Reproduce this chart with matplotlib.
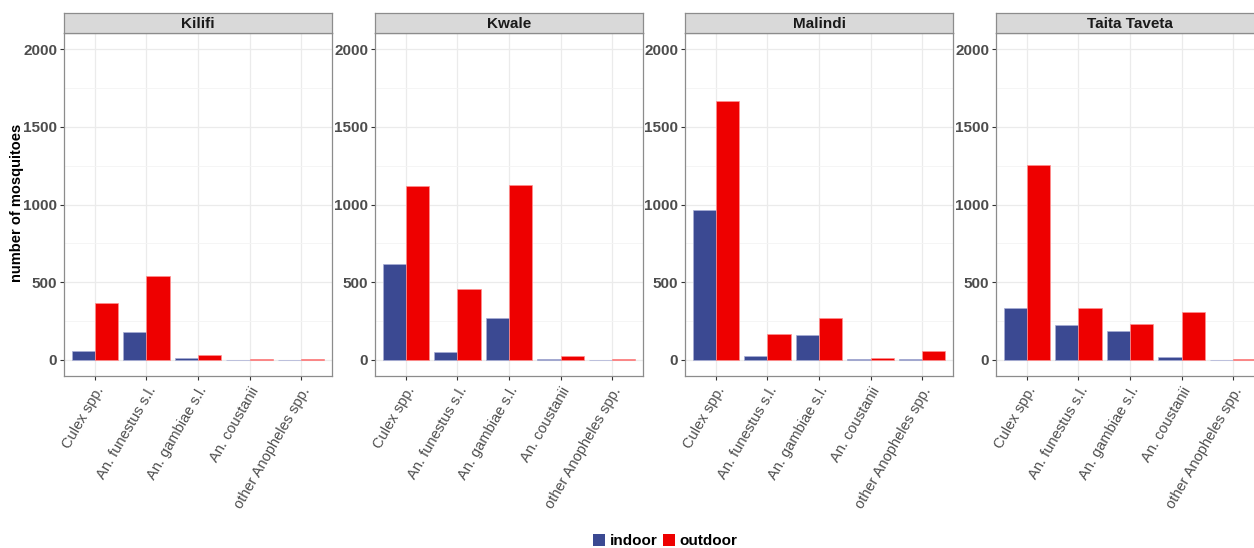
import matplotlib
matplotlib.use("Agg")
import matplotlib.pyplot as plt
from matplotlib.patches import Patch
import numpy as np

plt.rcParams['font.family'] = ['Liberation Sans', 'DejaVu Sans']

counties = ["Kilifi", "Kwale", "Malindi", "Taita Taveta"]
species = ["Culex spp.", "An. funestus s.l.", "An. gambiae s.l.", "An. coustanii", "other Anopheles spp."]

indoor = {
    "Kilifi":       [58, 180, 13, 0, 1],
    "Kwale":        [617, 49, 270, 4, 0],
    "Malindi":      [964, 21, 161, 2, 2],
    "Taita Taveta": [334, 225, 188, 19, 1],
}
outdoor = {
    "Kilifi":       [366, 537, 32, 2, 3],
    "Kwale":        [1116, 454, 1126, 26, 2],
    "Malindi":      [1666, 163, 270, 13, 58],
    "Taita Taveta": [1255, 332, 231, 308, 4],
}

C_IN = "#3B4992"
C_OUT = "#EE0000"

W, H = 1254, 548
fig = plt.figure(figsize=(W / 100, H / 100), dpi=100)

lefts = [64, 375, 685, 996]
pw = 268
ptop, pbot = 33, 376
stop = 13

border = "#8C8C8C"
x = np.arange(1, len(species) + 1)
bw = 0.45

for i, c in enumerate(counties):
    L = lefts[i]
    ax = fig.add_axes([L / W, 1 - pbot / H, pw / W, (pbot - ptop) / H])
    ax.bar(x - bw / 2, indoor[c], width=bw, color=C_IN, edgecolor='#A8AED6',
           linewidth=0.5, zorder=3)
    ax.bar(x + bw / 2, outdoor[c], width=bw, color=C_OUT, edgecolor='#FF9090',
           linewidth=0.5, zorder=3)
    ax.set_xlim(0.4, 5.6)
    ax.set_ylim(-105, 2105)
    ax.set_yticks([0, 500, 1000, 1500, 2000])
    ax.set_yticks([250, 750, 1250, 1750], minor=True)
    ax.set_xticks(x)
    ax.set_xticklabels(species, rotation=60, ha='right', va='top',
                       rotation_mode='anchor', fontsize=10.5, color='#4D4D4D')
    ax.tick_params(axis='y', which='major', labelsize=11, labelcolor='#4D4D4D',
                   length=3, color='#333333', width=0.8, pad=2)
    ax.tick_params(axis='y', which='minor', length=0)
    ax.tick_params(axis='x', length=3, color='#333333', width=0.8, pad=3)
    for lab in ax.get_yticklabels():
        lab.set_fontweight('bold')
    ax.grid(True, which='major', color='#EBEBEB', linewidth=0.9, zorder=0)
    ax.grid(True, which='minor', axis='y', color='#F4F4F4', linewidth=0.6, zorder=0)
    ax.set_axisbelow(True)
    for s in ax.spines.values():
        s.set_color(border)
        s.set_linewidth(0.9)
    # strip
    sax = fig.add_axes([L / W, 1 - ptop / H, pw / W, (ptop - stop) / H])
    sax.set_facecolor('#D9D9D9')
    sax.set_xticks([])
    sax.set_yticks([])
    for s in sax.spines.values():
        s.set_color(border)
        s.set_linewidth(0.9)
    sax.text(0.5, 0.45, c, transform=sax.transAxes, ha='center', va='center',
             fontsize=11, fontweight='bold', color='#1A1A1A')

fig.text(17 / W, 1 - 203 / H, "number of mosquitoes", rotation=90, ha='center',
         va='center', fontsize=10.5, fontweight='bold', color='black')

handles = [Patch(facecolor=C_IN, edgecolor='none', label='indoor'),
           Patch(facecolor=C_OUT, edgecolor='none', label='outdoor')]
leg = fig.legend(handles=handles, loc='center', bbox_to_anchor=(665 / W, 1 - 541 / H),
                 ncol=2, frameon=False, handlelength=0.8, handleheight=0.8,
                 handletextpad=0.3, columnspacing=0.35, prop={'weight': 'bold', 'size': 11})

fig.savefig("out.png", dpi=100)
